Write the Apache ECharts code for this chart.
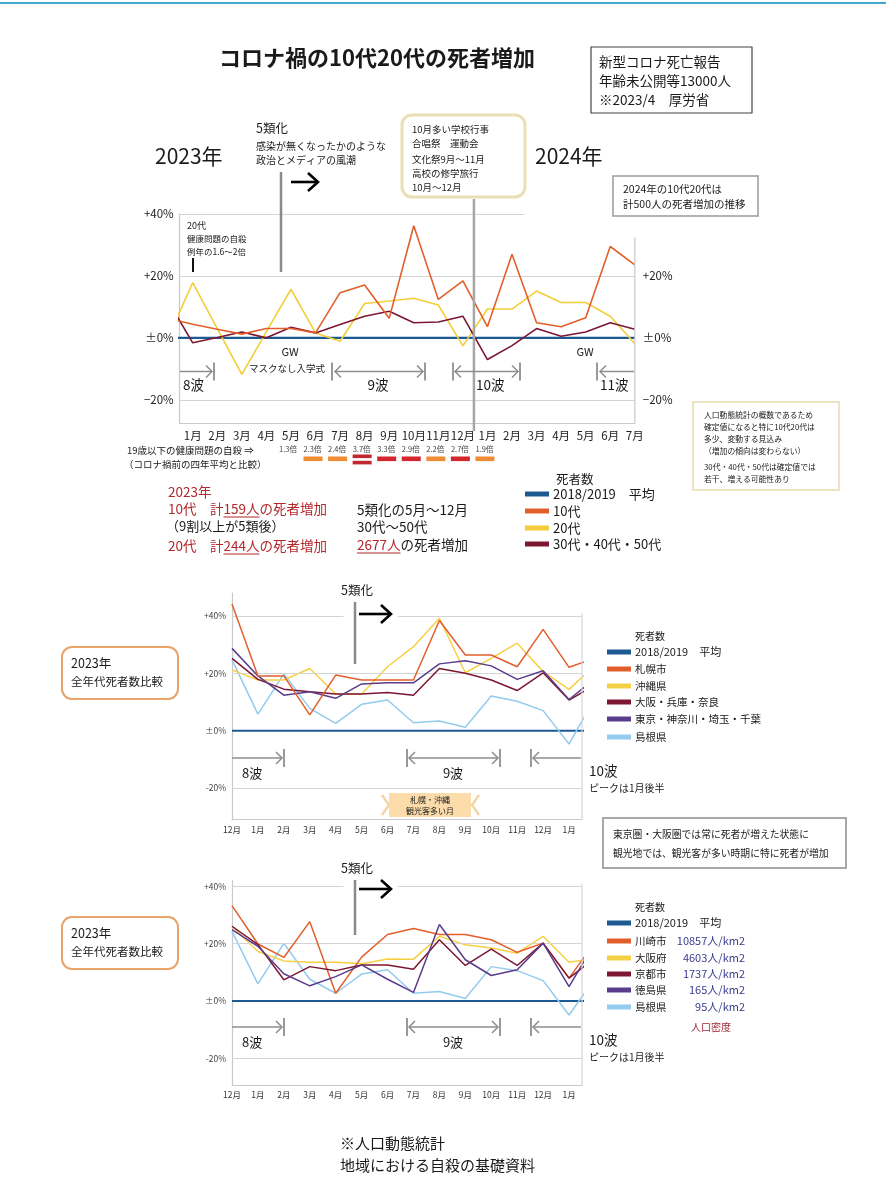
<!DOCTYPE html>
<html><head><meta charset="utf-8">
<script src="https://cdn.jsdelivr.net/npm/echarts@6/dist/echarts.min.js"></script>
<style>html,body{margin:0;padding:0;background:#fff}#c{width:886px;height:1200px}</style>
</head><body><div id="c"></div>
<script>
// ---------------- DATA ----------------
// Chart 1: Dec-2022 (clipped) + Jan-2023 .. Jul-2024, % change vs 2018/2019 average
const months1 = ['12月','1月','2月','3月','4月','5月','6月','7月','8月','9月','10月','11月','12月','1月','2月','3月','4月','5月','6月','7月'];
const avg1    = [0,0,0,0,0,0,0,0,0,0,0,0,0,0,0,0,0,0,0,0];
const teens   = [6.3, 4.4, 2.8, 1.2, 3.0, 3.0, 1.6, 14.6, 17.1, 6.3, 36.2, 12.4, 18.4, 3.6, 27.0, 4.9, 3.6, 6.5, 29.5, 23.6];
const twenties= [0.1, 17.8, 3.0, -11.8, 2.0, 15.7, 1.6, -1.1, 11.1, 11.9, 12.8, 10.6, -2.6, 9.3, 9.3, 15.1, 11.4, 11.4, 7.0, -1.8];
const adults  = [11.8, -1.6, 0.1, 1.9, 0.0, 3.4, 1.6, 4.3, 7.0, 8.6, 4.9, 5.1, 7.0, -7.0, -2.5, 3.0, 0.5, 1.9, 4.9, 2.8];
const ticks1  = [40, 20, 0, -20];
const ticks1R = [20, 0, -20];
// multipliers (19歳以下の健康問題の自殺) May-2023 .. Jan-2024
const multMonthIdx = [4,5,6,7,8,9,10,11,12];
const multLabels   = ['1.3倍','2.3倍','2.4倍','3.7倍','3.3倍','2.9倍','2.2倍','2.7倍','1.9倍'];
const multBarIdx   = [5,6,7,8,9,10,11,12];
const multBarKind  = ['o','o','d','r','r','o','r','o'];

// Charts 2 & 3: Dec-2022 .. Jan-2024 (+ Feb-2024 clipped)
const months2 = ['12月','1月','2月','3月','4月','5月','6月','7月','8月','9月','10月','11月','12月','1月','2月'];
const avg2    = [0,0,0,0,0,0,0,0,0,0,0,0,0,0,0];
const sapporo = [44.2, 19.1, 19.1, 5.5, 19.4, 17.7, 17.7, 17.7, 38.4, 26.4, 26.4, 22.3, 35.3, 22.1, 25.3];
const okinawa = [21.2, 17.7, 17.7, 21.7, 12.8, 12.8, 22.3, 29.3, 39.2, 20.2, 25.2, 30.5, 20.6, 14.4, 22.8];
const kansai  = [25.2, 17.9, 14.5, 13.6, 12.8, 12.8, 13.3, 12.4, 21.7, 20.0, 17.7, 14.0, 20.2, 10.7, 15.9];
const shutoken= [28.7, 19.1, 12.4, 13.6, 11.3, 16.3, 16.7, 16.7, 23.3, 24.4, 22.6, 17.9, 20.9, 10.9, 18.1];
const shimaneA= [24.7, 5.8, 19.8, 7.8, 2.6, 9.2, 10.7, 2.8, 3.4, 1.2, 12.1, 10.3, 7.0, -4.6, 11.4];

const kawasaki = [33.3, 19.9, 15.2, 27.7, 2.7, 15.3, 23.2, 25.3, 23.2, 23.2, 21.4, 17.0, 20.2, 8.0, 20.4];
const osakafu  = [26.1, 17.3, 14.0, 13.5, 13.5, 13.0, 14.7, 14.6, 22.6, 19.6, 18.5, 16.7, 22.6, 13.5, 14.9];
const kyoto    = [26.1, 19.7, 7.4, 12.0, 10.6, 12.6, 12.6, 11.1, 21.4, 12.4, 18.1, 12.4, 20.2, 8.0, 15.0];
const tokushima= [24.9, 19.1, 9.5, 5.3, 8.5, 12.6, 7.6, 3.0, 26.7, 14.4, 8.9, 10.9, 20.2, 5.0, 20.2];
const shimaneB = [24.3, 6.0, 20.1, 7.6, 2.7, 9.4, 10.9, 2.7, 3.3, 0.9, 12.0, 10.6, 7.1, -4.9, 7.9];
const ticks2 = [40, 20, 0, -20];

const legend1 = ['2018/2019　平均','10代','20代','30代・40代・50代'];
const legend2 = ['2018/2019　平均','札幌市','沖縄県','大阪・兵庫・奈良','東京・神奈川・埼玉・千葉','島根県'];
const legend3 = ['2018/2019　平均','川崎市','大阪府','京都市','徳島県','島根県'];
const density3 = ['','10857人/km2','4603人/km2','1737人/km2','165人/km2','95人/km2'];

// ---------------- STYLE ----------------
const FONT = '"Noto Sans CJK JP","Noto Sans",sans-serif';
const RED = '#B3282D';
const ARW = '#8E8E8E';
const GRIDC = '#D4D4D4';
const C_BASE = '#1E5A92';
const c1 = {teen:'#E25F2B', twenty:'#F3CE3A', adult:'#7C1733'};
const c2 = ['#1E5A92','#E25F2B','#F6D044','#7C1733','#5A3C8C','#93CBEE'];

const chart = echarts.init(document.getElementById('c'), null, {renderer:'canvas'});

function xAx(g, min, max, vals, fmt, size, color, margin){
  return {type:'value', gridIndex:g, min, max,
    axisLine:{show:true, onZero:false, lineStyle:{color:'#C9C9C9', width:1.2}},
    axisTick:{show:false}, splitLine:{show:false},
    axisLabel:{customValues:vals, formatter:fmt, fontSize:size, color, fontFamily:FONT, margin}};
}
function yAx(g, min, max, vals, fmt, size, color, pos, showLine, margin){
  return {type:'value', gridIndex:g, min, max, position:pos,
    axisLine:{show:showLine, onZero:false, lineStyle:{color:'#C9C9C9', width:1.2}},
    axisTick:{show:false}, splitLine:{show:false},
    axisLabel:{customValues:vals, formatter:fmt, fontSize:size, color, fontFamily:FONT, margin}};
}
const fmtA = v => v > 0 ? '+' + v + '%' : (v === 0 ? '±0%' : '−' + Math.abs(v) + '%');
const fmtB = v => v > 0 ? '+' + v + '%' : (v === 0 ? '±0%' : '-' + Math.abs(v) + '%');
const pts = (arr, off) => arr.map((v, i) => [i + off, v]);
function ln(name, data, color, width, xi, yi, z, extra){
  return Object.assign({type:'line', name, data, xAxisIndex:xi, yAxisIndex:yi, symbol:'none', clip:true, z,
    lineStyle:{color, width}, itemStyle:{color}, emphasis:{disabled:true}, silent:true, animation:false}, extra||{});
}
function gridMark(lines){
  return {markLine:{silent:true, symbol:['none','none'], label:{show:false}, animation:false,
    lineStyle:{color:GRIDC, width:1, type:'solid'}, emphasis:{disabled:true}, data:lines}};
}

const option = {
  animation:false,
  backgroundColor:'#ffffff',
  textStyle:{fontFamily:FONT},
  grid:[
    {left:179.7, top:214, width:455.1, height:209, containLabel:false, outerBoundsMode:'none'},
    {left:232, top:593, width:350, height:226.7, containLabel:false, outerBoundsMode:'none'},
    {left:232, top:880.7, width:350, height:204.5, containLabel:false, outerBoundsMode:'none'}
  ],
  xAxis:[
    xAx(0, -0.53, 18, months1.slice(1).map((m,i)=>i), v => months1[Math.round(v)+1], 11.5, '#222', 7),
    xAx(1, 0, 13.5, months2.slice(0,14).map((m,i)=>i), v => months2[Math.round(v)], 8.5, '#333', 6),
    xAx(2, 0, 13.5, months2.slice(0,14).map((m,i)=>i), v => months2[Math.round(v)], 8.5, '#333', 5)
  ],
  yAxis:[
    yAx(0, -27.5, 40, ticks1, fmtA, 11.5, '#222', 'left', true, 6),
    yAx(0, -27.5, 40, ticks1R, fmtA, 11.5, '#222', 'right', false, 8),
    yAx(1, -31, 48, ticks2, fmtB, 8.5, '#444', 'left', true, 6),
    yAx(2, -29.4, 42, ticks2, fmtB, 8.5, '#444', 'left', true, 6)
  ],
  series:[
    ln('2018/2019 平均', pts(avg1,-1), C_BASE, 2.2, 0, 0, 2,
      gridMark([{yAxis:20},{yAxis:-20},[{coord:[-0.53,40]},{coord:[13.5,40]}]])),
    ln('20代', pts(twenties,-1), c1.twenty, 1.6, 0, 0, 3),
    ln('30代・40代・50代', pts(adults,-1), c1.adult, 1.6, 0, 0, 4),
    ln('10代', pts(teens,-1), c1.teen, 1.6, 0, 0, 5),

    ln('2018/2019 平均', pts(avg2,0), c2[0], 2.2, 1, 2, 2,
      gridMark([{yAxis:20},{yAxis:-20},[{coord:[0,40]},{coord:[4.3,40]}],[{coord:[6.4,40]},{coord:[13.5,40]}]])),
    ln('島根県', pts(shimaneA,0), c2[5], 1.5, 1, 2, 3),
    ln('沖縄県', pts(okinawa,0), c2[2], 1.5, 1, 2, 4),
    ln('大阪・兵庫・奈良', pts(kansai,0), c2[3], 1.5, 1, 2, 5),
    ln('東京・神奈川・埼玉・千葉', pts(shutoken,0), c2[4], 1.5, 1, 2, 6),
    ln('札幌市', pts(sapporo,0), c2[1], 1.5, 1, 2, 7),

    ln('2018/2019 平均', pts(avg2,0), c2[0], 2.2, 2, 3, 2,
      gridMark([{yAxis:20},{yAxis:-20},[{coord:[0,40]},{coord:[4.3,40]}],[{coord:[6.4,40]},{coord:[13.5,40]}]])),
    ln('島根県', pts(shimaneB,0), c2[5], 1.5, 2, 3, 3),
    ln('大阪府', pts(osakafu,0), c2[2], 1.5, 2, 3, 4),
    ln('川崎市', pts(kawasaki,0), c2[1], 1.5, 2, 3, 5),
    ln('京都市', pts(kyoto,0), c2[3], 1.5, 2, 3, 6),
    ln('徳島県', pts(tokushima,0), c2[4], 1.5, 2, 3, 7)
  ]
};
chart.setOption(option);

// ---------------- ANNOTATIONS ----------------
const mctx = document.createElement('canvas').getContext('2d');
function mw(text, size, weight){ mctx.font = (weight||'normal') + ' ' + size + 'px ' + FONT; return mctx.measureText(text).width; }
function T(x, y, text, size, o){
  o = o || {};
  const st = {text, fontFamily:FONT, fontSize:size, fontWeight:o.w||'normal', fill:o.fill||'#1a1a1a',
    align:o.align||'left', verticalAlign:'middle', textAlign:o.align||'left', textVerticalAlign:'middle'};
  if (o.rich) st.rich = o.rich;
  return {type:'text', x, y, z:30, silent:true, style:st};
}
function L(x1, y1, x2, y2, color, w){ return {type:'line', z:25, silent:true, shape:{x1,y1,x2,y2}, style:{stroke:color, lineWidth:w}}; }
function P(points, color, w){ return {type:'polyline', z:25, silent:true, shape:{points}, style:{stroke:color, lineWidth:w, fill:null}}; }
function R(x, y, w, h, o){ return {type:'rect', z:o.z||20, silent:true, shape:{x,y,width:w,height:h,r:o.r||0}, style:{fill:o.fill||'none', stroke:o.stroke||'none', lineWidth:o.lw||1}}; }
function headR(x, y, s){ return P([[x-s, y-s],[x, y],[x-s, y+s]], ARW, 1.5); }
function headL(x, y, s){ return P([[x+s, y-s],[x, y],[x+s, y+s]], ARW, 1.5); }
function bar(x, y, h){ return L(x, y-h, x, y+h, ARW, 1.8); }
function bigArrow(x, y, len){ return [L(x, y, x+len, y, '#000', 2.6), P([[x+len-10, y-9],[x+len, y],[x+len-10, y+9]], '#000', 2.6)]; }

const g = [];
const px = (si, x, y) => chart.convertToPixel({seriesIndex:si}, [x, y]);

// top strip
g.push(L(0, 3, 886, 3, '#42A9CA', 2));

// Title & boxes
g.push(T(377, 58, 'コロナ禍の10代20代の死者増加', 22, {align:'center', w:'bold'}));
g.push(R(591, 47, 161, 66, {stroke:'#444', lw:1.2}));
g.push(T(599, 62, '新型コロナ死亡報告', 13.5));
g.push(T(599, 81, '年齢未公開等13000人', 13.5));
g.push(T(599, 100, '※2023/4　厚労省', 13.5));

g.push(T(155, 156, '2023年', 21));
g.push(T(535, 156, '2024年', 21));

g.push(T(256, 128, '5類化', 12.5));
g.push(T(256, 146, '感染が無くなったかのような', 10));
g.push(T(256, 160, '政治とメディアの風潮', 10));
g.push(L(281, 172, 281, 272, '#8A8A8A', 2.5));
g.push(...bigArrow(291, 182, 27));

g.push(R(402, 115, 123, 82, {r:10, stroke:'#E8DFB4', lw:3, fill:'#fff'}));
g.push(T(412, 129, '10月多い学校行事', 9.5));
g.push(T(412, 143, '合唱祭　運動会', 9.5));
g.push(T(412, 159, '文化祭9月～11月', 9.5));
g.push(T(412, 173, '高校の修学旅行', 9.5));
g.push(T(412, 187, '10月～12月', 9.5));

// year separator between Dec-2023 and Jan-2024
const sep = px(0, 11.45, 0);
g.push(L(sep[0], 199, sep[0], 431, '#A6A6A6', 2.5));

g.push(R(613, 176, 145, 40, {stroke:'#9A9A9A', lw:1.5}));
g.push(T(623, 189, '2024年の10代20代は', 10.5));
g.push(T(623, 204, '計500人の死者増加の推移', 10.5));

// right axis line chart 1
const rTop = px(0, 18, 32.5), rBot = px(0, 18, -27.5);
g.push(L(rTop[0], rTop[1], rBot[0], rBot[1], '#C9C9C9', 1.2));

g.push(T(187, 226, '20代', 9));
g.push(T(187, 239, '健康問題の自殺', 8.5));
g.push(T(187, 252, '例年の1.6～2倍', 8.5));
g.push(L(193, 258, 193, 272, '#111', 2));

g.push(T(290, 352, 'GW', 11, {align:'center'}));
g.push(T(585, 352, 'GW', 11, {align:'center'}));
g.push(T(287, 368, 'マスクなし入学式', 9.5, {align:'center'}));

// waves chart 1
const wy = 371.5;
g.push(L(180, wy, 212, wy, ARW, 1.5), headR(212, wy, 6), bar(214, wy, 9));
g.push(bar(332, wy, 9), L(335, wy, 423, wy, ARW, 1.5), headL(335, wy, 6), headR(423, wy, 6), bar(425, wy, 9));
g.push(bar(453, wy, 9), L(455, wy, 518, wy, ARW, 1.5), headL(455, wy, 6), headR(518, wy, 6), bar(520, wy, 9));
g.push(bar(597, wy, 9), L(600, wy, 634, wy, ARW, 1.5), headL(600, wy, 6));
g.push(T(183, 385, '8波', 13.5));
g.push(T(378, 385, '9波', 13.5, {align:'center'}));
g.push(T(476, 385, '10波', 13.5));
g.push(T(600, 385, '11波', 13.5));

// multipliers row
g.push(T(127, 450, '19歳以下の健康問題の自殺 ⇒', 9.5));
g.push(T(124, 464, '（コロナ禍前の四年平均と比較）', 9.5));
multMonthIdx.forEach((mi, k) => {
  const p = px(0, mi, 0);
  g.push(T(p[0] - 3, 449.5, multLabels[k], 7.5, {align:'center', fill:'#444'}));
});
multBarIdx.forEach((mi, k) => {
  const p = px(0, mi, 0);
  const kind = multBarKind[k];
  if (kind === 'd') {
    g.push(R(p[0]-12, 454.5, 19, 3.6, {fill:'#C1272F'}));
    g.push(R(p[0]-12, 460.8, 19, 3.6, {fill:'#C1272F'}));
  } else {
    g.push(R(p[0]-12, 456.5, 19, 4.6, {fill: kind === 'o' ? '#F08C34' : '#D3262F'}));
  }
});

// red/black summary text
g.push(T(168, 492, '2023年', 13.5, {fill:RED}));
g.push(T(168, 509, '10代　計159人の死者増加', 13.5, {fill:RED}));
let ux = 168 + mw('10代　計', 13.5);
g.push(L(ux, 517, ux + mw('159人', 13.5), 517, RED, 1.2));
g.push(T(166, 526, '（9割以上が5類後）', 13));
g.push(T(168, 546, '20代　計244人の死者増加', 13.5, {fill:RED}));
ux = 168 + mw('20代　計', 13.5);
g.push(L(ux, 554, ux + mw('244人', 13.5), 554, RED, 1.2));

g.push(T(357, 510, '5類化の5月～12月', 13.5));
g.push(T(357, 527, '30代～50代', 13.5));
g.push(T(357, 545, '{r|2677人}{k|の死者増加}', 13.5, {rich:{r:{fill:RED, fontSize:13.5, fontFamily:FONT}, k:{fill:'#1a1a1a', fontSize:13.5, fontFamily:FONT}}}));
g.push(L(357, 553, 357 + mw('2677人', 13.5), 553, RED, 1.2));

// legend chart 1
g.push(T(556, 479, '死者数', 12.5));
const l1c = [C_BASE, c1.teen, c1.twenty, c1.adult];
const l1y = [494, 511, 528, 544];
legend1.forEach((t, i) => {
  g.push(R(525, l1y[i]-2.5, 24, 5, {fill:l1c[i]}));
  g.push(T(553, l1y[i], t, 13));
});

// note box
g.push(R(693, 402, 146, 88, {stroke:'#ECE3C0', lw:2}));
['人口動態統計の概数であるため','確定値になると特に10代20代は','多少、変動する見込み','（増加の傾向は変わらない）'].forEach((t,i)=>g.push(T(704, 415 + i*12, t, 7.8)));
['30代・40代・50代は確定値では','若干、増える可能性あり'].forEach((t,i)=>g.push(T(704, 467 + i*12, t, 7.8)));

// ---- chart 2 & 3 annotations ----
function panel(yOff, isThird){
  // rounded label box
  g.push(R(62, 647 + yOff, 116, 52, {r:10, stroke:'#E9A268', lw:2}));
  g.push(T(71, 663 + yOff, '2023年', 12.5));
  g.push(T(71, 682 + yOff, '全年代死者数比較', 11.5));
}
panel(0); panel(270);

// 5類化 chart 2
g.push(T(341, 590, '5類化', 12.5));
g.push(L(355, 602, 355, 664, '#8A8A8A', 2.5));
g.push(...bigArrow(359, 614, 32));
// 5類化 chart 3
g.push(T(341, 868, '5類化', 12.5));
g.push(L(355, 880, 355, 935, '#8A8A8A', 2.5));
g.push(...bigArrow(359, 889, 32));

function waves23(y, ly){
  g.push(L(232, y, 282, y, ARW, 1.5), headR(282, y, 6), bar(284, y, 9));
  g.push(bar(407, y, 9), L(409, y, 498, y, ARW, 1.5), headL(409, y, 6), headR(498, y, 6), bar(500, y, 9));
  g.push(bar(531, y, 9), L(533, y, 581, y, ARW, 1.5), headL(533, y, 6));
  g.push(T(242, ly, '8波', 13));
  g.push(T(453, ly, '9波', 13, {align:'center'}));
  g.push(T(589, ly - 2, '10波', 13.5));
  g.push(T(589, ly + 15, 'ピークは1月後半', 10));
}
waves23(758, 773);
waves23(1027, 1042);

// tourism box
g.push(R(389, 793, 82, 24, {fill:'#FCDCAB'}));
g.push(T(430, 800, '札幌・沖縄', 8, {align:'center'}));
g.push(T(430, 811, '観光客多い月', 8, {align:'center'}));
g.push(P([[382, 795],[389, 805],[382, 815]], '#F3D6A4', 2.5));
g.push(P([[479, 795],[472, 805],[479, 815]], '#F3D6A4', 2.5));

// right borders charts 2/3
[[4, 41, -31],[10, 41, -29.4]].forEach(([si, t, b]) => {
  const a = px(si, 13.5, t), c = px(si, 13.5, b);
  g.push(L(a[0], a[1], c[0], c[1], '#D6D6D6', 1.2));
});

// legend chart 2
g.push(T(635, 636, '死者数', 10));
const l2y = [652, 669, 686, 702, 719, 737];
legend2.forEach((t, i) => {
  g.push(R(607, l2y[i]-2.5, 24, 5, {fill:c2[i]}));
  g.push(T(635, l2y[i], t, i === 0 ? 11 : 10.5));
});

g.push(R(603, 818, 243, 50, {stroke:'#A8A8A8', lw:2}));
g.push(T(613, 834, '東京圏・大阪圏では常に死者が増えた状態に', 9.8));
g.push(T(613, 853, '観光地では、観光客が多い時期に特に死者が増加', 9.8));

// legend chart 3
g.push(T(635, 907, '死者数', 10));
const l3y = [923, 941, 958, 974, 990, 1007];
legend3.forEach((t, i) => {
  g.push(R(607, l3y[i]-2.5, 24, 5, {fill:c2[i]}));
  g.push(T(635, l3y[i], t, i === 0 ? 11 : 10.5));
  if (density3[i]) g.push(T(745, l3y[i], density3[i], 11, {align:'right', fill:'#3A3C8E'}));
});
g.push(T(711, 1027, '人口密度', 10, {align:'center', fill:'#9E2436'}));

// footer
g.push(T(340, 1143, '※人口動態統計', 15));
g.push(T(340, 1165, '地域における自殺の基礎資料', 15));

chart.setOption({graphic:{elements:g}});
</script>
</body></html>
